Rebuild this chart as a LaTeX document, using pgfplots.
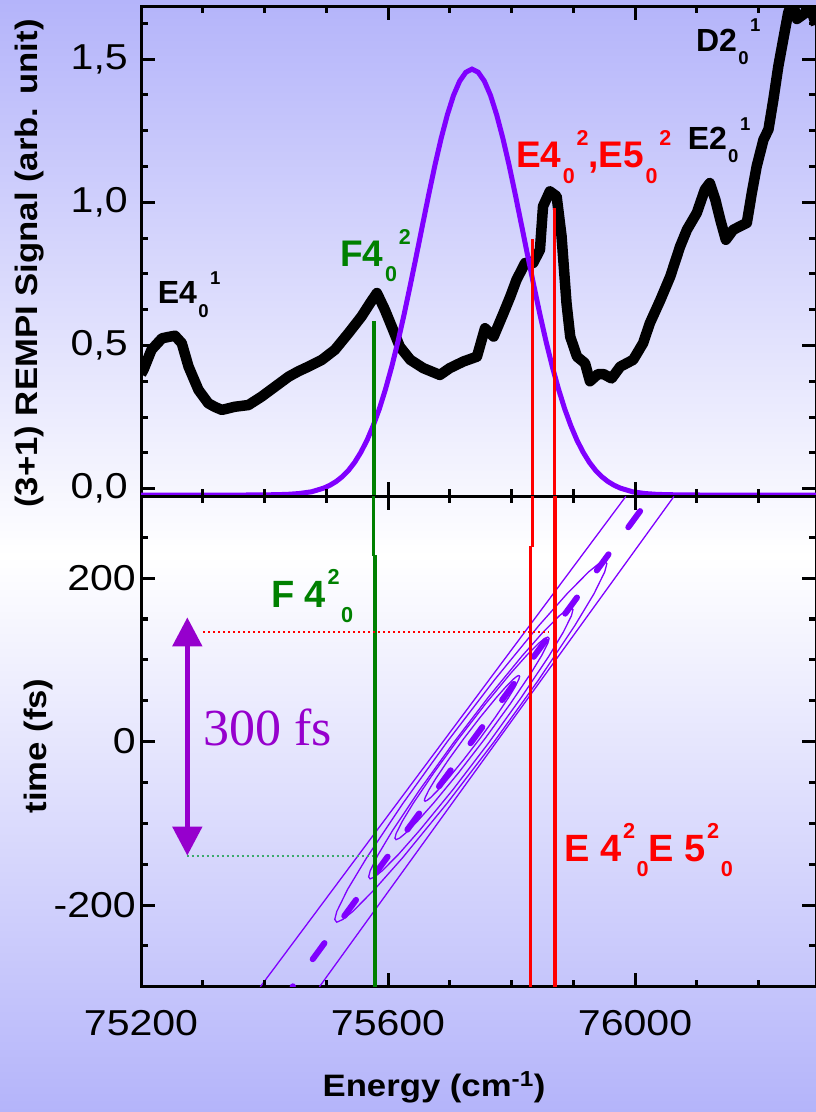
\documentclass[border=0pt]{standalone}
\usepackage{fontspec}
\usepackage{graphicx}
\usepackage{pgfplots}
\pgfplotsset{compat=1.18}
\usetikzlibrary{arrows.meta}
\setmainfont{Liberation Sans}
\newfontfamily\tickfont[FakeStretch=1.14]{Liberation Sans}
\newfontfamily\labfont[FakeStretch=1.12]{Liberation Sans}
\newfontfamily\seriffont{Liberation Serif}

\definecolor{bgblue}{RGB}{180,180,250}
\definecolor{pulse}{RGB}{128,0,255}
\definecolor{arrowc}{RGB}{150,0,205}
\definecolor{dgreen}{RGB}{0,128,0}
\definecolor{dotgreen}{RGB}{60,170,110}

% level labels: upper panel sub then sup, lower panel sup then sub
\newcommand\ls[2]{\kern0.04em\raisebox{-0.415em}{\scalebox{0.58}{#1}}\kern0.05em\raisebox{0.6em}{\scalebox{0.58}{#2}}}
\newcommand\lu[2]{\kern0.04em\raisebox{0.6em}{\scalebox{0.57}{#1}}\kern0.04em\raisebox{-0.41em}{\scalebox{0.57}{#2}}}

\pgfplotsset{
  panel/.style={
    anchor=south west, scale only axis, width=675pt,
    xmin=75200, xmax=76293,
    scaled x ticks=false, scaled y ticks=false,
    axis line style={line width=3pt},
    major tick style={draw=black, line width=3pt},
    minor tick style={draw=black, line width=3pt},
    tick align=inside,
    major tick length=14pt, minor tick length=7pt,
    xtick={75200,75600,76000},
    minor xtick={75300,75400,75500,75700,75800,75900,76100,76200},
    ticklabel style={font=\tickfont\fontsize{36}{40}\selectfont, inner sep=0pt},
  },
}

\begin{document}
\begin{tikzpicture}
\shade[top color=bgblue, bottom color=bgblue, middle color=white] (0pt,0pt) rectangle (816pt,1112pt);
\useasboundingbox (0pt,0pt) rectangle (816pt,1112pt);

% upper panel: REMPI spectrum and pulse spectrum
\begin{axis}[panel, at={(141pt,615.6pt)}, height=490pt,
    ymin=-0.027, ymax=1.684,
    ytick={0,0.5,1,1.5}, yticklabels={{0,0},{0,5},{1,0},{1,5}},
    minor ytick={0.125,0.25,0.375,0.625,0.75,0.875,1.125,1.25,1.375,1.625},
    xticklabels={},
    yticklabel style={anchor=east, xshift=-13pt}]
\addplot[black, line width=10.5pt, line join=round] coordinates {
(75200,0.40) (75204,0.415) (75217,0.485) (75234,0.525) (75245,0.530) (75255,0.534)
(75266,0.508) (75277,0.426) (75293,0.345) (75309,0.298) (75320,0.285) (75331,0.275)
(75352,0.286) (75374,0.292) (75395,0.321) (75417,0.356) (75439,0.391) (75455,0.41)
(75471,0.426) (75493,0.45) (75514,0.485) (75536,0.543) (75557,0.601) (75571,0.648)
(75582,0.683) (75595,0.624) (75606,0.566) (75619,0.496) (75636,0.45) (75657,0.421)
(75684,0.397) (75700,0.421) (75722,0.444) (75744,0.461) (75757,0.56) (75771,0.531)
(75787,0.613) (75798,0.671) (75808,0.729) (75822,0.788) (75835,0.788) (75846,0.834)
(75851,0.986) (75862,1.038) (75873,1.021) (75881,0.881) (75889,0.648) (75895,0.531)
(75906,0.461) (75919,0.438) (75927,0.375) (75940,0.40) (75949,0.40) (75962,0.385)
(75976,0.426) (75997,0.45) (76013,0.508) (76024,0.578) (76041,0.659) (76057,0.741)
(76073,0.846) (76084,0.904) (76100,0.963) (76113,1.044) (76121,1.067) (76130,1.009)
(76138,0.939) (76147,0.869) (76159,0.904) (76181,0.928) (76189,1.032) (76197,1.126)
(76208,1.219) (76216,1.254) (76224,1.359) (76232,1.475) (76240,1.569) (76248,1.662)
(76255,1.70) (76262,1.64) (76275,1.66) (76281,1.70) (76293,1.62)};
\addplot[pulse, line width=5pt] coordinates {
(75200,-0.023) (75396,-0.022) (75436,-0.020) (75456,-0.017) (75476,-0.011)
(75496,0.002) (75506,0.012) (75516,0.025) (75526,0.042) (75536,0.064) (75546,0.092)
(75556,0.127) (75566,0.169) (75576,0.220) (75586,0.279) (75596,0.348) (75606,0.426)
(75616,0.513) (75626,0.608) (75636,0.710) (75646,0.815) (75656,0.922) (75666,1.028)
(75676,1.130) (75686,1.223) (75696,1.305) (75706,1.373) (75716,1.423) (75726,1.454)
(75736,1.465) (75746,1.454) (75756,1.423) (75766,1.373) (75776,1.305) (75786,1.223)
(75796,1.130) (75806,1.028) (75816,0.922) (75826,0.815) (75836,0.710) (75846,0.608)
(75856,0.513) (75866,0.426) (75876,0.348) (75886,0.279) (75896,0.220) (75906,0.169)
(75916,0.127) (75926,0.092) (75936,0.064) (75946,0.042) (75956,0.025) (75966,0.012)
(75976,0.002) (75996,-0.011) (76016,-0.017) (76036,-0.020) (76076,-0.022) (76293,-0.023)};
\addplot[dgreen, line width=3.5pt] coordinates {(75577.5,-0.05) (75577.5,0.584)};
\addplot[red, line width=3.5pt] coordinates {(75833.7,-0.05) (75833.7,0.872)};
\addplot[red, line width=3.5pt] coordinates {(75869.4,-0.05) (75869.4,0.98)};
\node[anchor=base west, inner sep=0pt, font=\bfseries\fontsize{32}{36}\selectfont] at (axis cs:75227,0.645) {E4\ls{0}{1}};
\node[anchor=base west, inner sep=0pt, text=dgreen, font=\bfseries\fontsize{37}{40}\selectfont] at (axis cs:75522.5,0.776) {F4\ls{0}{2}};
\node[anchor=base west, inner sep=0pt, text=red, font=\bfseries\fontsize{37}{40}\selectfont] at (axis cs:75807,1.12) {E4\ls{0}{2},E5\ls{0}{2}};
\node[anchor=base west, inner sep=0pt, font=\bfseries\fontsize{32}{36}\selectfont] at (axis cs:76085,1.184) {E2\ls{0}{1}};
\node[anchor=base west, inner sep=0pt, font=\bfseries\fontsize{32}{36}\selectfont] at (axis cs:76098.5,1.528) {D2\ls{0}{1}};
\end{axis}

% lower panel: chirped pulse contours
\begin{axis}[panel, at={(141pt,125.2pt)}, height=490.4pt,
    ymin=-300, ymax=300,
    ytick={-200,0,200}, yticklabels={-200,0,200},
    minor ytick={-250,-150,-100,-50,50,100,150,250},
    xticklabels={75200,75600,76000},
    xticklabel style={anchor=north, yshift=-23pt},
    yticklabel style={anchor=east, xshift=-5pt}]
\addplot[pulse, line width=1.3pt] coordinates {(75393.2,-300) (75985.1,300)};
\addplot[pulse, line width=1.3pt] coordinates {(75488.9,-300) (76063,300)};
\addplot[pulse, line width=1.3pt] coordinates {
(75951,221) (75954.3,217.6) (75950.9,207.7) (75933.6,181.0) (75902.6,142.1) (75843.9,75.6)
(75772,0) (75695.5,-75.6) (75623.6,-142.1) (75578.0,-181.0) (75543.1,-207.7) (75526.9,-217.6)
(75517,-221) (75513.7,-217.6) (75517.1,-207.7) (75534.4,-181.0) (75565.4,-142.1) (75624.1,-75.6)
(75696,0) (75772.5,75.6) (75844.4,142.1) (75890.0,181.0) (75924.9,207.7) (75941.1,217.6) (75951,221)};
\addplot[pulse, line width=1.3pt] coordinates {
(75897,164) (75899.5,161.5) (75897.0,154.0) (75883.9,134.0) (75860.6,104.7) (75816.5,54.8)
(75762.5,-2) (75705.1,-58.8) (75651.0,-108.7) (75616.9,-138.0) (75590.6,-158.0) (75578.5,-165.5)
(75571,-168) (75568.6,-165.5) (75571.1,-158.0) (75584.2,-138.0) (75607.4,-108.7) (75651.5,-58.8)
(75705.5,-2) (75762.9,54.8) (75817.0,104.7) (75851.2,134.0) (75877.5,154.0) (75889.6,161.5) (75897,164)};
\addplot[pulse, line width=1.3pt] coordinates {
(75859,128) (75860.8,126.1) (75858.9,120.5) (75849.0,105.6) (75831.4,83.7) (75798.1,46.4)
(75757.3,4) (75713.9,-38.4) (75673.2,-75.7) (75647.4,-97.6) (75627.7,-112.5) (75618.6,-118.1)
(75613,-120) (75611.2,-118.1) (75613.1,-112.5) (75623.0,-97.6) (75640.6,-75.7) (75673.9,-38.4)
(75714.7,4) (75758.1,46.4) (75798.8,83.7) (75824.6,105.6) (75844.3,120.5) (75853.4,126.1) (75859,128)};
\addplot[pulse, line width=1.3pt] coordinates {
(75812,81) (75813.1,79.8) (75811.9,76.4) (75805.8,67.1) (75794.9,53.5) (75774.2,30.3)
(75749,4) (75722.2,-22.3) (75697.1,-45.5) (75681.2,-59.1) (75669.1,-68.4) (75663.5,-71.8)
(75660,-73) (75658.9,-71.8) (75660.2,-68.4) (75666.2,-59.1) (75677.1,-45.5) (75697.8,-22.3)
(75723,4) (75749.8,30.3) (75775.0,53.5) (75790.8,67.1) (75803.0,76.4) (75808.5,79.8) (75812,81)};
\addplot[pulse, line width=6pt, line cap=round, dash pattern=on 20pt off 33.5pt] coordinates {(76008.2,282) (75445.4,-300)};
\addplot[dgreen, line width=3.5pt] coordinates {(75576.2,227) (75576.2,310)};
\addplot[dgreen, line width=3.5pt] coordinates {(75578.5,-310) (75578.5,228)};
\addplot[red, line width=3.5pt] coordinates {(75833.7,238) (75833.7,310)};
\addplot[red, line width=3.5pt] coordinates {(75830.5,-310) (75830.5,239)};
\addplot[red, line width=3.5pt] coordinates {(75870.4,-310) (75870.4,310)};
\addplot[red, line width=2pt, dash pattern=on 2pt off 3pt] coordinates {(75301,133.5) (75860,133.5)};
\addplot[dotgreen, line width=2pt, dash pattern=on 2pt off 3pt] coordinates {(75274,-140.3) (75576,-140.3)};
\addplot[arrowc, line width=5pt, arrows={Triangle[length=29pt,width=29pt]-Triangle[length=29pt,width=29pt]}] coordinates {(75275,-139.5) (75275,152)};
\node[anchor=base west, inner sep=0pt, text=arrowc, font=\seriffont\fontsize{52}{56}\selectfont] at (axis cs:75301,-5) {300 fs};
\node[anchor=base west, inner sep=0pt, text=dgreen, font=\bfseries\fontsize{38}{42}\selectfont] at (axis cs:75410.4,164.3) {F 4\lu{2}{0}};
\node[anchor=base west, inner sep=0pt, text=red, font=\bfseries\fontsize{38}{42}\selectfont] at (axis cs:75885.4,-146.5) {E 4\lu{2}{0}E 5\lu{2}{0}};
\end{axis}

% inward tick marks on the frames of both panels (page units: 1pt = 1px)
\foreach \x/\l in {202.76/7,264.51/7,326.27/7,388.03/14,449.78/7,511.54/7,573.30/7,635.05/14,696.81/7,758.57/7}{
  \draw[black, line width=3pt] (\x pt,125.2pt) -- ++(0pt,\l pt);
  \draw[black, line width=3pt] (\x pt,615.6pt) -- ++(0pt,-\l pt);
  \draw[black, line width=3pt] (\x pt,615.6pt) -- ++(0pt,\l pt);
  \draw[black, line width=3pt] (\x pt,1105.6pt) -- ++(0pt,-\l pt);}
\foreach \y/\l in {623.33/14,659.13/7,694.93/7,730.73/7,766.52/14,802.32/7,838.12/7,873.92/7,909.71/14,945.51/7,981.31/7,1017.11/7,1052.90/14,1088.70/7,
                   166.07/7,206.93/14,247.80/7,288.67/7,329.53/7,370.40/14,411.27/7,452.13/7,493.00/7,533.87/14,574.73/7}{
  \draw[black, line width=3pt] (141pt,\y pt) -- ++(\l pt,0pt);
  \draw[black, line width=3pt] (816pt,\y pt) -- ++(-\l pt,0pt);}

\node[rotate=90, anchor=base, inner sep=0pt, font=\labfont\bfseries\fontsize{31}{36}\selectfont] at (37pt,848.5pt) {(3+1) REMPI Signal (arb. unit)};
\node[rotate=90, anchor=base, inner sep=0pt, font=\labfont\bfseries\fontsize{31}{36}\selectfont] at (46pt,366pt) {time (fs)};
\node[anchor=base, inner sep=0pt, font=\labfont\bfseries\fontsize{31}{36}\selectfont] at (434pt,16pt) {Energy (cm\textsuperscript{-1})};
\end{tikzpicture}
\end{document}
